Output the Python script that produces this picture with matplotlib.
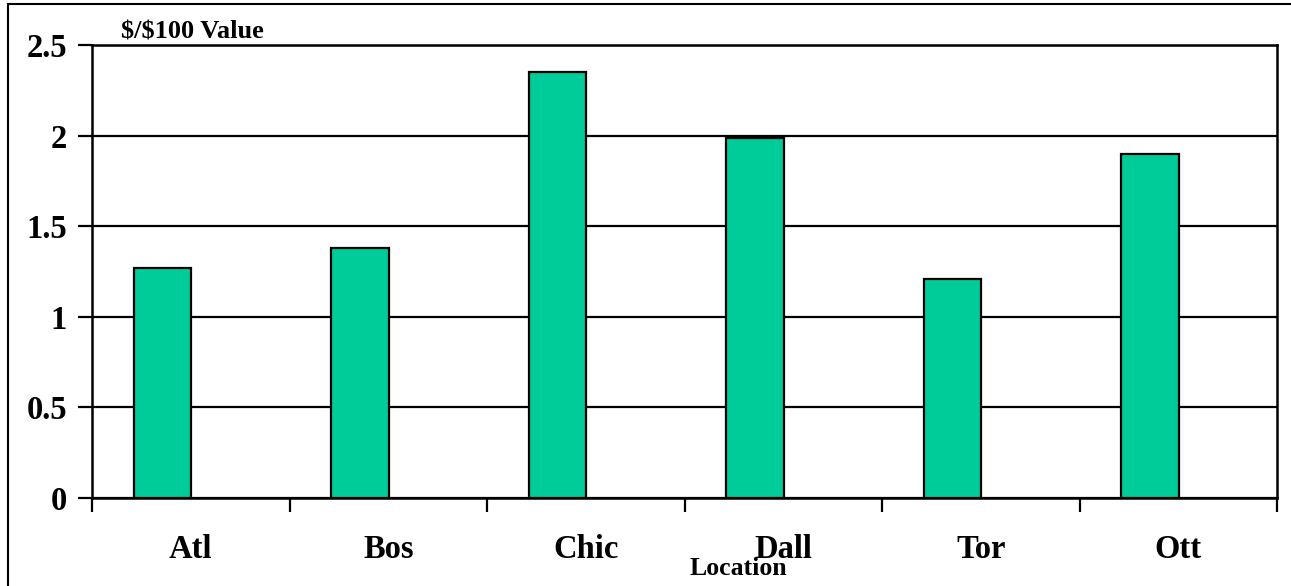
import matplotlib
matplotlib.use("Agg")
import matplotlib.pyplot as plt
import numpy as np
from matplotlib.patches import Rectangle

categories = ["Atl", "Bos", "Chic", "Dall", "Tor", "Ott"]
values = [1.27, 1.38, 2.35, 1.99, 1.21, 1.90]
yticks = [0, 0.5, 1, 1.5, 2, 2.5]
ytick_labels = ["0", "0.5", "1", "1.5", "2", "2.5"]

plt.rcParams['font.family'] = ['Liberation Serif', 'DejaVu Serif']
plt.rcParams['font.weight'] = 'bold'

W, H = 1291, 586
fig = plt.figure(figsize=(W / 100, H / 100), dpi=100)
ax = fig.add_axes([92 / W, 1 - 497.7 / H, (1277 - 92) / W, (497.7 - 45.2) / H])

x = np.arange(len(categories))
ax.bar(x - 0.143, values, width=0.289, color="#00CC99", edgecolor="black",
       linewidth=1.6, zorder=3)

ax.set_xlim(-0.5, len(categories) - 0.5)
ax.set_ylim(0, 2.5)
ax.set_yticks(yticks)
ax.set_yticklabels(ytick_labels, fontsize=23.5, fontweight='bold')
ax.yaxis.grid(True, color="black", linewidth=1.6, zorder=1)
ax.set_axisbelow(True)

ax.set_xticks(np.arange(-0.5, len(categories), 1.0))
ax.set_xticklabels([])
ax.set_xticks(x, minor=True)
ax.set_xticklabels(categories, minor=True, fontsize=23.5, fontweight='bold')
ax.tick_params(axis='x', which='minor', length=0, pad=26)
ax.tick_params(axis='x', which='major', length=10, width=1.6, direction='out')
ax.tick_params(axis='y', length=10, width=1.6, direction='out', pad=8)

for s in ax.spines.values():
    s.set_linewidth(1.8)
    s.set_color("black")

fig.text(121 / W, 1 - 38 / H, r"\$/\$100 Value", fontsize=19, fontweight='bold',
         ha='left', va='baseline')
fig.text(738 / W, 1 - 575 / H, "Location", fontsize=18.5, fontweight='bold',
         ha='center', va='baseline')

# figure border
fig.patches.append(Rectangle((8 / W, -0.1), 1.2, 1 - 4 / H + 0.1,
                             transform=fig.transFigure, fill=False,
                             edgecolor="black", linewidth=1.5))

fig.savefig("out.png", dpi=100)
